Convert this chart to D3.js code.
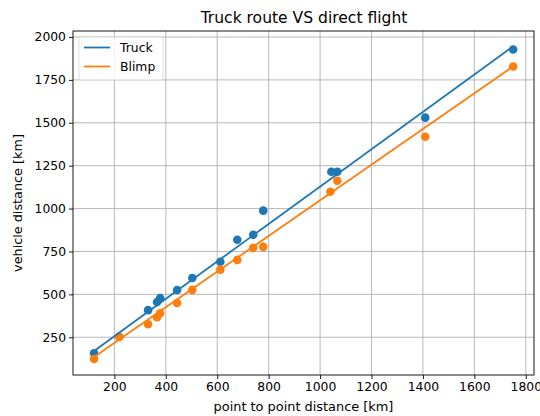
<!DOCTYPE html>
<html>
<head>
<meta charset="utf-8">
<script src="https://cdn.jsdelivr.net/npm/d3@7"></script>
<style>
body { margin: 0; background: #fff; }
svg { font-family: "DejaVu Sans", sans-serif; }
</style>
</head>
<body>
<svg id="chart" width="540" height="416"></svg>
<script>
// Data
const truckX = [121, 219, 331, 366, 378, 444, 503, 612, 678, 740, 779, 1044, 1067, 1409, 1751];
const truckY = [157, 253, 408, 455, 478, 525, 595, 690, 818, 847, 988, 1215, 1215, 1530, 1927];
const blimpX = [121, 219, 331, 366, 378, 444, 503, 612, 678, 740, 779, 1040, 1067, 1409, 1751];
const blimpY = [123, 252, 326, 367, 390, 450, 526, 643, 701, 771, 777, 1098, 1162, 1419, 1828];
const fitX = [121, 1751];
const truckFit = [170, 1946];
const blimpFit = [135, 1829];
const xTicks = [200, 400, 600, 800, 1000, 1200, 1400, 1600, 1800];
const yTicks = [250, 500, 750, 1000, 1250, 1500, 1750, 2000];
const seriesNames = ["Truck", "Blimp"];
const colors = ["#1f77b4", "#ff7f0e"];

const svg = d3.select("#chart");
const L = 73, T = 31, R = 534, B = 375;
const x = d3.scaleLinear().domain([39, 1832]).range([L, R]);
const y = d3.scaleLinear().domain([30, 2035]).range([B, T]);

// size text so its width matches the reference
function fit(sel, target) {
  sel.attr("font-size", 12);
  const w = sel.node().getComputedTextLength();
  sel.attr("font-size", 12 * target / w);
  return sel;
}

// grid
const grid = svg.append("g");
xTicks.forEach(t => grid.append("line").attr("x1", x(t)).attr("x2", x(t)).attr("y1", T).attr("y2", B)
  .attr("stroke", "#b0b0b0").attr("stroke-width", 0.9));
yTicks.forEach(t => grid.append("line").attr("x1", L).attr("x2", R).attr("y1", y(t)).attr("y2", y(t))
  .attr("stroke", "#b0b0b0").attr("stroke-width", 0.9));

// scatter
const series = [[truckX, truckY], [blimpX, blimpY]];
series.forEach((s, i) => {
  svg.append("g").selectAll("circle").data(s[0].map((v, j) => [v, s[1][j]])).join("circle")
    .attr("cx", d => x(d[0])).attr("cy", d => y(d[1])).attr("r", 4.3).attr("fill", colors[i]);
});

// fit lines
[[truckFit, 0], [blimpFit, 1]].forEach(([f, i]) => {
  svg.append("path").attr("d", d3.line()(fitX.map((v, j) => [x(v), y(f[j])])))
    .attr("stroke", colors[i]).attr("stroke-width", 1.8).attr("fill", "none");
});

// axes
const xAxis = svg.append("g").attr("transform", `translate(0,${B})`)
  .call(d3.axisBottom(x).tickValues(xTicks).tickSize(4).tickPadding(3).tickFormat(d3.format("d")));
const yAxis = svg.append("g").attr("transform", `translate(${L},0)`)
  .call(d3.axisLeft(y).tickValues(yTicks).tickSize(4).tickPadding(3).tickFormat(d3.format("d")));
[xAxis, yAxis].forEach(a => {
  a.select(".domain").remove();
  a.selectAll("text").attr("fill", "#000").attr("font-family", "DejaVu Sans");
  a.selectAll("line").attr("stroke", "#000").attr("stroke-width", 0.9);
});
// tick label size: "2000" is ~31.5px wide in the reference
const probe = yAxis.selectAll("text").filter(d => d === 2000);
fit(probe, 31.5);
const tickFs = probe.attr("font-size");
xAxis.selectAll("text").attr("font-size", tickFs);
yAxis.selectAll("text").attr("font-size", tickFs);

svg.append("rect").attr("x", L).attr("y", T).attr("width", R - L).attr("height", B - T)
  .attr("fill", "none").attr("stroke", "#000").attr("stroke-width", 0.9);

// labels
fit(svg.append("text").attr("x", (L + R) / 2 + 0.5).attr("y", 23).attr("text-anchor", "middle")
  .text("Truck route VS direct flight"), 207);
fit(svg.append("text").attr("x", (L + R) / 2).attr("y", 411).attr("text-anchor", "middle")
  .text("point to point distance [km]"), 180);
fit(svg.append("text").attr("transform", `translate(22,${(T + B) / 2}) rotate(-90)`).attr("text-anchor", "middle")
  .text("vehicle distance [km]"), 138);

// legend
const lg = svg.append("g");
lg.append("rect").attr("x", 79).attr("y", 37).attr("width", 84).attr("height", 43).attr("rx", 2.5)
  .attr("fill", "#fff").attr("fill-opacity", 0.8).attr("stroke", "#d9d9d9").attr("stroke-width", 0.9);
seriesNames.forEach((n, i) => {
  const yy = 47.5 + i * 19;
  lg.append("line").attr("x1", 84).attr("x2", 110).attr("y1", yy).attr("y2", yy)
    .attr("stroke", colors[i]).attr("stroke-width", 1.8);
  lg.append("text").attr("x", 120).attr("y", yy + 4.5).attr("font-size", tickFs).text(n);
});
</script>
</body>
</html>
